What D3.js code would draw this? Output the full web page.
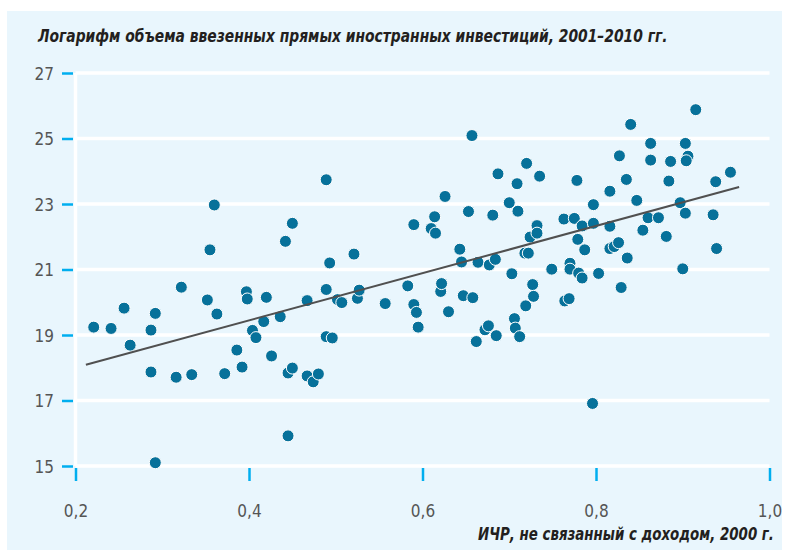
<!DOCTYPE html>
<html>
<head>
    <meta charset="utf-8">
    <title>ПИИ и ИЧР</title>
    <script src="https://cdnjs.cloudflare.com/ajax/libs/d3/7.8.5/d3.min.js"></script>
    <style>
        body {
            margin: 0;
            background: #fff;
        }
        svg text {
            font-family: "Liberation Sans Narrow", "DejaVu Sans Condensed", "Roboto Condensed", sans-serif;
        }
        .tick-label {
            fill: #555;
            font-size: 17px;
        }
        .title {
            fill: #231f20;
            font-size: 17px;
            font-weight: bold;
            font-style: italic;
        }
        .dot {
            fill: #07719a;
            stroke: #fff;
            stroke-width: 1;
        }
    </style>
</head>
<body>
    <div id="chart"></div>

    <script>
        // ИЧР, не связанный с доходом (x) и логарифм ПИИ (y) по странам
        const hdi = [
            0.221, 0.241, 0.256, 0.263, 0.287, 0.292, 0.287, 0.292, 0.316, 0.322,
            0.334, 0.352, 0.355, 0.360, 0.363, 0.372, 0.386, 0.392, 0.397, 0.398,
            0.404, 0.408, 0.417, 0.420, 0.426, 0.436, 0.442, 0.445, 0.450, 0.445,
            0.450, 0.467, 0.467, 0.474, 0.480, 0.489, 0.489, 0.489, 0.496, 0.493,
            0.502, 0.507, 0.521, 0.525, 0.527, 0.557, 0.583, 0.590, 0.590, 0.593,
            0.595, 0.610, 0.614, 0.615, 0.621, 0.622, 0.626, 0.630, 0.643, 0.645,
            0.647, 0.653, 0.657, 0.658, 0.662, 0.664, 0.672, 0.676, 0.677, 0.681,
            0.684, 0.685, 0.687, 0.700, 0.703, 0.706, 0.707, 0.709, 0.710, 0.712,
            0.718, 0.722, 0.719, 0.720, 0.724, 0.727, 0.728, 0.732, 0.732, 0.735,
            0.749, 0.763, 0.764, 0.769, 0.770, 0.770, 0.775, 0.778, 0.779, 0.780,
            0.784, 0.784, 0.787, 0.797, 0.797, 0.796, 0.803, 0.816, 0.816, 0.816,
            0.821, 0.826, 0.827, 0.829, 0.835, 0.836, 0.840, 0.847, 0.854, 0.860,
            0.863, 0.863, 0.872, 0.881, 0.884, 0.886, 0.897, 0.900, 0.903, 0.903,
            0.906, 0.904, 0.915, 0.935, 0.938, 0.939, 0.955
        ];
        const fdi = [
            19.24, 19.20, 19.82, 18.69, 19.15, 19.66, 17.87, 15.10, 17.71, 20.46,
            17.79, 20.07, 21.60, 22.97, 19.64, 17.82, 18.54, 18.02, 20.32, 20.10,
            19.14, 18.92, 19.41, 20.15, 18.36, 19.56, 21.86, 17.84, 17.99, 15.92,
            22.41, 20.05, 17.75, 17.57, 17.81, 23.74, 20.39, 18.95, 18.91, 21.20,
            20.08, 19.99, 21.47, 20.12, 20.37, 19.96, 20.50, 22.37, 19.93, 19.69,
            19.24, 22.25, 22.61, 22.11, 20.33, 20.57, 23.23, 19.71, 21.62, 21.23,
            20.20, 22.77, 25.09, 20.14, 18.80, 21.22, 19.16, 19.28, 21.14, 22.66,
            21.31, 18.98, 23.92, 23.04, 20.87, 19.50, 19.21, 23.62, 22.78, 18.95,
            21.50, 21.50, 19.89, 24.24, 21.99, 20.54, 20.18, 22.34, 22.11, 23.85,
            21.01, 22.54, 20.04, 20.11, 21.19, 21.01, 22.56, 23.72, 21.92, 20.89,
            22.33, 20.74, 21.60, 22.98, 22.41, 16.91, 20.88, 22.32, 23.39, 21.64,
            21.70, 21.82, 24.47, 20.45, 23.75, 21.35, 25.43, 23.11, 22.20, 22.58,
            24.85, 24.34, 22.58, 22.01, 23.70, 24.30, 23.04, 21.02, 24.85, 22.72,
            24.46, 24.32, 25.88, 22.67, 23.68, 21.64, 23.97
        ];

        // линия тренда (концы)
        const trendX = [0.212, 0.965];
        const trendY = [18.09, 23.52];

        const xTicks = [0.2, 0.4, 0.6, 0.8, 1.0];
        const yTicks = [15, 17, 19, 21, 23, 25, 27];

        const titleText = 'Логарифм объема ввезенных прямых иностранных инвестиций, 2001–2010 гг.';
        const xTitleText = 'ИЧР, не связанный с доходом, 2000 г.';

        const width = 788;
        const height = 554;

        const svg = d3.select('#chart')
            .append('svg')
            .attr('width', width)
            .attr('height', height);

        // фон панели
        svg.append('rect')
            .attr('x', 7)
            .attr('y', 11)
            .attr('width', 775)
            .attr('height', 539)
            .attr('fill', '#e9f6fd');

        const x = d3.scaleLinear()
            .domain([0.2, 1.0])
            .range([75.5, 769.5]);

        const y = d3.scaleLinear()
            .domain([15, 27])
            .range([466, 73]);

        // белая сетка
        svg.append('g')
            .selectAll('line')
            .data(yTicks)
            .join('line')
            .attr('x1', x(0.2))
            .attr('x2', x(1.0))
            .attr('y1', d => y(d))
            .attr('y2', d => y(d))
            .attr('stroke', '#fff')
            .attr('stroke-width', 3.5);

        svg.append('line')
            .attr('x1', x(0.2))
            .attr('x2', x(0.2))
            .attr('y1', y(27))
            .attr('y2', y(15))
            .attr('stroke', '#fff')
            .attr('stroke-width', 3.5);

        // оси
        const yAxis = svg.append('g')
            .attr('transform', 'translate(73,0)')
            .call(d3.axisLeft(y)
                .tickValues(yTicks)
                .tickSize(11)
                .tickPadding(8)
                .tickFormat(d3.format('d')));

        const xAxis = svg.append('g')
            .attr('transform', `translate(0,${y(15) + 2})`)
            .call(d3.axisBottom(x)
                .tickValues(xTicks)
                .tickSize(13)
                .tickPadding(24)
                .tickFormat(d => d3.format('.1f')(d).replace('.', ',')));

        [yAxis, xAxis].forEach(a => {
            a.select('.domain').remove();
            a.selectAll('.tick line')
                .attr('stroke', '#00aeef')
                .attr('stroke-width', 2.5);
            a.selectAll('.tick text')
                .attr('class', 'tick-label')
                .attr('font-family', null)
                .attr('font-size', null);
        });
        yAxis.selectAll('.tick text').attr('dy', '0.36em');

        // точки
        const points = hdi.map((v, i) => ({x: v, y: fdi[i]}));

        svg.append('g')
            .selectAll('circle')
            .data(points)
            .join('circle')
            .attr('class', 'dot')
            .attr('cx', d => x(d.x))
            .attr('cy', d => y(d.y))
            .attr('r', 6);

        // линия тренда
        svg.append('line')
            .attr('x1', x(trendX[0]))
            .attr('y1', y(trendY[0]))
            .attr('x2', x(trendX[1]))
            .attr('y2', y(trendY[1]))
            .attr('stroke', '#505050')
            .attr('stroke-width', 2);

        // подписи: сжимаем по ширине, как узкий шрифт оригинала
        function fitText(str, left, baseline, targetWidth) {
            const g = svg.append('g');
            const t = g.append('text')
                .attr('class', 'title')
                .text(str);
            const w = t.node().getComputedTextLength();
            const k = Math.min(1, targetWidth / w);
            g.attr('transform', `translate(${left},${baseline}) scale(${k},1)`);
        }

        fitText(titleText, 38, 42, 630);
        fitText(xTitleText, 478, 540, 296);
    </script>
</body>
</html>
